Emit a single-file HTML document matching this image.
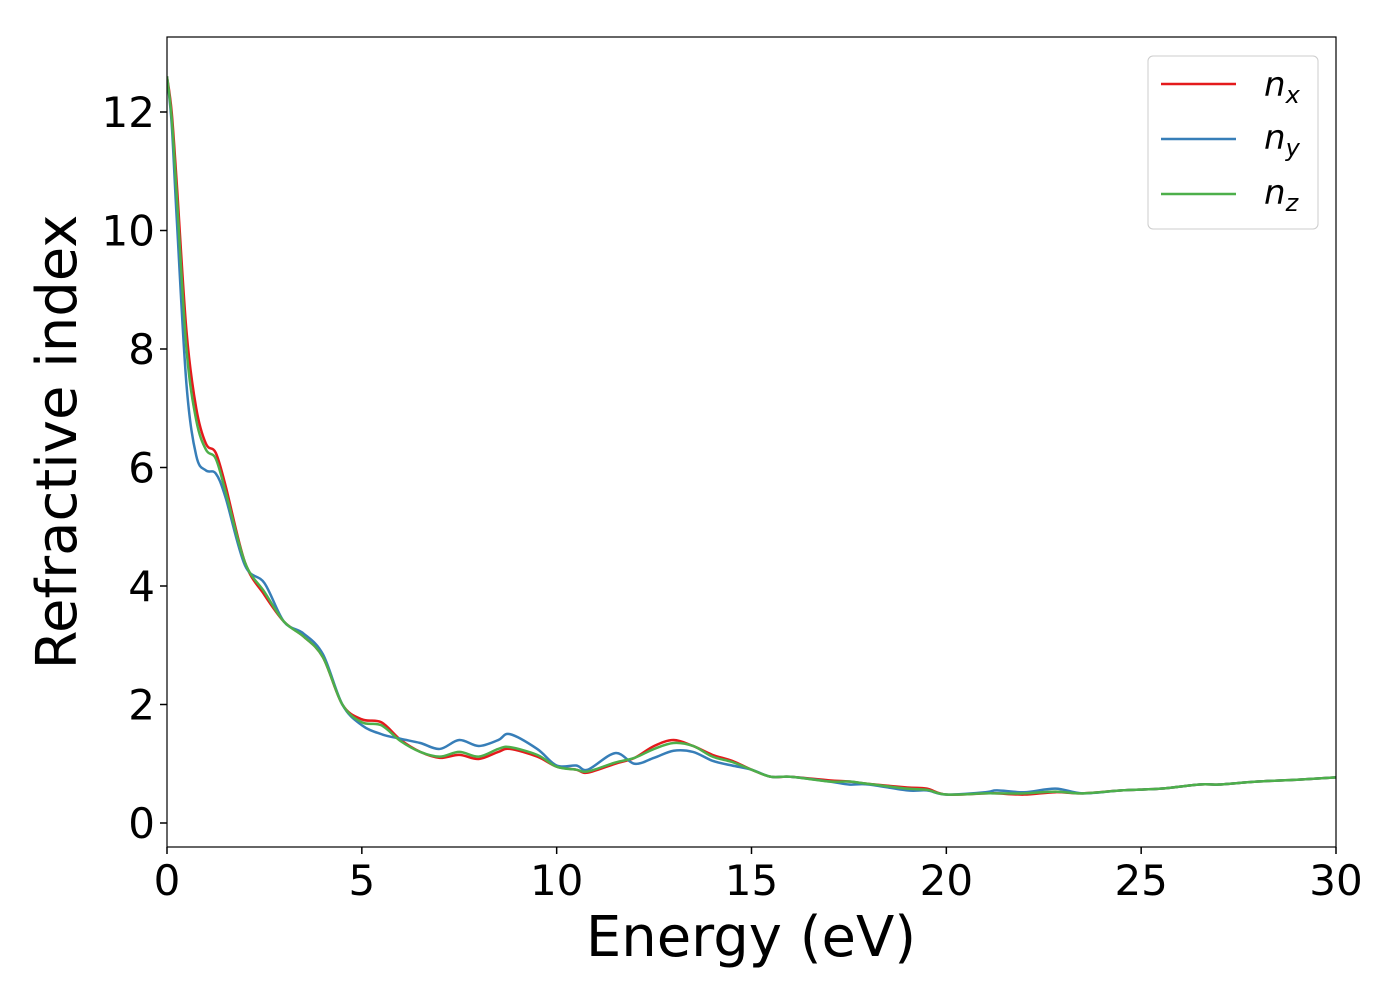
<!DOCTYPE html>
<html><head><meta charset="utf-8"><style>
body{margin:0;background:#fff;font-family:"DejaVu Sans","Liberation Sans",sans-serif}
</style></head><body>
<svg id="chart" width="1400" height="1000" xmlns="http://www.w3.org/2000/svg" font-family="DejaVu Sans, sans-serif"></svg>
<script>
const energy=[0,0.12,0.25,0.5,0.75,1.0,1.25,1.5,2.0,2.5,3.0,3.5,4.0,4.5,5.0,5.5,6.0,6.5,7.0,7.5,8.0,8.5,8.8,9.5,10,10.5,10.8,11.5,12,12.5,13,13.5,14,14.5,15,15.5,16,17,17.5,18,19,19.5,20,21,21.3,22,22.8,23.5,24.5,25.5,26.5,27,28,29,30];
const nx=[12.6,12.0,10.8,8.3,7.0,6.4,6.25,5.7,4.4,3.85,3.4,3.15,2.8,2.0,1.75,1.7,1.4,1.2,1.1,1.15,1.08,1.2,1.25,1.12,0.95,0.9,0.85,1.0,1.1,1.3,1.4,1.3,1.15,1.05,0.9,0.78,0.78,0.72,0.7,0.66,0.6,0.58,0.48,0.5,0.5,0.48,0.52,0.5,0.55,0.58,0.65,0.65,0.7,0.73,0.77];
const ny=[12.6,11.8,10.2,7.4,6.2,5.95,5.9,5.5,4.35,4.05,3.4,3.2,2.85,2.0,1.65,1.5,1.42,1.35,1.25,1.4,1.3,1.4,1.5,1.25,0.97,0.97,0.9,1.18,1.0,1.1,1.22,1.2,1.05,0.97,0.9,0.78,0.78,0.7,0.65,0.65,0.55,0.55,0.48,0.52,0.55,0.52,0.58,0.5,0.55,0.58,0.65,0.65,0.7,0.73,0.77];
const nz=[12.6,11.9,10.6,8.0,6.8,6.3,6.15,5.6,4.4,3.9,3.4,3.15,2.8,2.0,1.7,1.65,1.38,1.2,1.12,1.2,1.12,1.25,1.28,1.15,0.95,0.9,0.87,1.02,1.1,1.25,1.35,1.3,1.12,1.03,0.9,0.78,0.78,0.7,0.7,0.66,0.58,0.56,0.48,0.5,0.5,0.5,0.53,0.5,0.55,0.58,0.65,0.65,0.7,0.73,0.77];
const xTicks=[0,5,10,15,20,25,30];
const yTicks=[0,2,4,6,8,10,12];
const L=167,R=1336,T=37,B=847;
const X=v=>L+(v-0)/30*(R-L);
const Y=v=>823-v*59.25;
const svg=document.getElementById('chart');
const NS='http://www.w3.org/2000/svg';
function mk(t,a,p){const e=document.createElementNS(NS,t);for(const k in a)e.setAttribute(k,a[k]);(p||svg).appendChild(e);return e;}
function path(xs,ys){const p=xs.map((x,i)=>[X(x),Y(ys[i])]);let d='M'+p[0][0]+','+p[0][1];
for(let i=0;i<p.length-1;i++){const p0=p[Math.max(0,i-1)],p1=p[i],p2=p[i+1],p3=p[Math.min(p.length-1,i+2)];
const c1=[p1[0]+(p2[0]-p0[0])/6,p1[1]+(p2[1]-p0[1])/6],c2=[p2[0]-(p3[0]-p1[0])/6,p2[1]-(p3[1]-p1[1])/6];
d+=' C'+c1[0]+','+c1[1]+' '+c2[0]+','+c2[1]+' '+p2[0]+','+p2[1];}return d;}
const clip=mk('clipPath',{id:'cp'});mk('rect',{x:L,y:T,width:R-L,height:B-T},clip);
const series=[[nx,'#e41a1c','series-nx'],[ny,'#377eb8','series-ny'],[nz,'#4daf4a','series-nz']];
series.forEach(s=>{const e=mk('path',{d:path(energy,s[0]),fill:'none',stroke:s[1],'stroke-width':2.5,'clip-path':'url(#cp)'});

});
const frame=mk('rect',{x:L,y:T,width:R-L,height:B-T,fill:'none',stroke:'#000','stroke-width':1.2});


xTicks.forEach(v=>{mk('line',{x1:X(v),x2:X(v),y1:B,y2:B+7,stroke:'#000','stroke-width':1.5});
const t=mk('text',{x:X(v),y:B+48,'text-anchor':'middle','font-size':42});t.textContent=v;

});
yTicks.forEach(v=>{mk('line',{x1:L-7,x2:L,y1:Y(v),y2:Y(v),stroke:'#000','stroke-width':1.5});
const t=mk('text',{x:L-12,y:Y(v)+15,'text-anchor':'end','font-size':42});t.textContent=v;

});
</script>
<svg style="position:absolute;left:0;top:0" width="1400" height="1000" xmlns="http://www.w3.org/2000/svg" font-family="DejaVu Sans, sans-serif">
<text x="751" y="956" text-anchor="middle" font-size="56">Energy (eV)</text>
<text transform="translate(76,442) rotate(-90)" text-anchor="middle" font-size="56">Refractive index</text>
<g font-style="oblique">
<rect x="1148" y="56" width="170" height="173" rx="5" fill="#fff" stroke="#ccc"/>
<line x1="1161" x2="1236" y1="84" y2="84" stroke="#e41a1c" stroke-width="2.5"/>
<text x="1264" y="96" font-size="34">n<tspan font-size="24" dy="7">x</tspan></text>
<line x1="1161" x2="1236" y1="139" y2="139" stroke="#377eb8" stroke-width="2.5"/>
<text x="1264" y="149" font-size="34">n<tspan font-size="24" dy="7">y</tspan></text>
<line x1="1161" x2="1236" y1="194" y2="194" stroke="#4daf4a" stroke-width="2.5"/>
<text x="1264" y="204" font-size="34">n<tspan font-size="24" dy="7">z</tspan></text>
</g>
</svg>
</body></html>
